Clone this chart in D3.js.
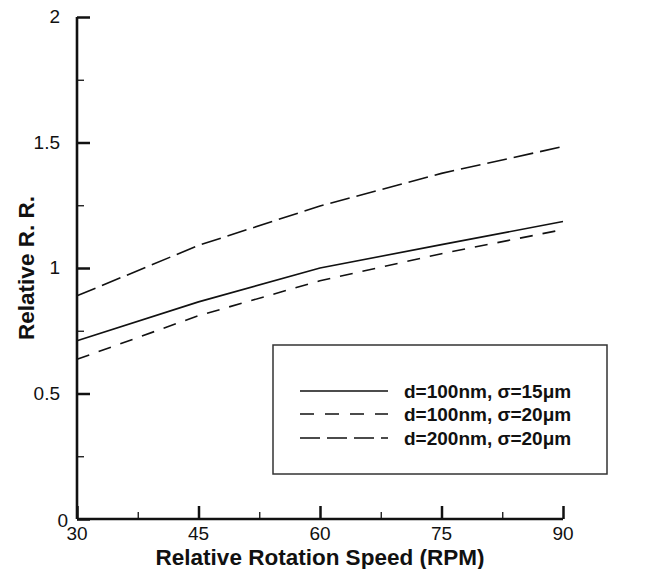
<!DOCTYPE html>
<html><head><meta charset="utf-8">
<script src="https://cdn.jsdelivr.net/npm/d3@7"></script>
<style>body{margin:0;background:#fff;} svg{display:block;font-family:"Liberation Sans",Arial,sans-serif;}</style>
</head><body>
<svg id="c" width="653" height="569"></svg>
<script>
const speeds = [30, 45, 60, 75, 90];
const seriesNames = ["d=100nm, \u03c3=15\u03bcm", "d=100nm, \u03c3=20\u03bcm", "d=200nm, \u03c3=20\u03bcm"];
const solidValues = [0.71, 0.865, 1.0, 1.093, 1.185];
const shortDashValues = [0.636, 0.81, 0.949, 1.057, 1.153];
const longDashValues = [0.889, 1.09, 1.247, 1.377, 1.484];
const xTicks = [30, 45, 60, 75, 90];
const yTicks = [0, 0.5, 1, 1.5, 2];
const yTickLabels = ["0", "0.5", "1", "1.5", "2"];

const svg = d3.select("#c");
const x = d3.scaleLinear().domain([30, 90]).range([77, 563]);
const y = d3.scaleLinear().domain([0, 2]).range([519, 17]);

const dashes = ["none", "13,10", "20,7"];
const data = [solidValues, shortDashValues, longDashValues];

const line = d3.line().x((d, i) => x(speeds[i])).y(d => y(d));
data.forEach((vals, k) => {
  svg.append("path").attr("d", line(vals)).attr("fill", "none")
    .attr("stroke", "#111").attr("stroke-width", 1.6)
    .attr("stroke-dasharray", dashes[k]);
});

// axes
const gx = svg.append("g").attr("transform", `translate(0,${y(0)})`);
gx.call(d3.axisTop(x).tickValues(d3.range(30, 90.1, 7.5)).tickSize(7).tickFormat(""));
gx.selectAll(".tick line").attr("stroke", "#111").attr("stroke-width", 1.3);
gx.selectAll(".tick").filter(d => xTicks.includes(d)).select("line").attr("y2", -13).attr("stroke-width", 2.5);
gx.select(".domain").attr("stroke", "#111").attr("stroke-width", 2.6).attr("d", `M${x(30)},0H${x(90)}`);
gx.selectAll(".tlab").data(xTicks).enter().append("text")
  .attr("x", d => x(d)).attr("y", 21).attr("text-anchor", "middle")
  .attr("font-size", 19).attr("fill", "#111").text(d => d);

const gy = svg.append("g").attr("transform", `translate(${x(30)},0)`);
gy.call(d3.axisRight(y).tickValues(d3.range(0, 2.01, 0.25)).tickSize(7).tickFormat(""));
gy.selectAll(".tick line").attr("stroke", "#111").attr("stroke-width", 1.3);
gy.selectAll(".tick").filter(d => yTicks.includes(d)).select("line").attr("x2", 13).attr("stroke-width", 2.5);
gy.select(".domain").attr("stroke", "#111").attr("stroke-width", 2.6).attr("d", `M0,${y(0)}V${y(2)}`);
gy.selectAll(".tlab").data(yTicks).enter().append("text")
  .attr("x", d => d === 0 ? -9 : -17).attr("y", d => y(d) + (d === 0 ? 8 : 6)).attr("text-anchor", "end")
  .attr("font-size", 19).attr("fill", "#111").text((d, i) => yTickLabels[i]);

// titles
svg.append("text").attr("x", 320).attr("y", 565).attr("text-anchor", "middle")
  .attr("font-size", 22.5).attr("font-weight", "bold").attr("fill", "#111").text("Relative Rotation Speed (RPM)");
svg.append("text").attr("transform", "translate(34,268) rotate(-90)").attr("text-anchor", "middle")
  .attr("font-size", 22.5).attr("font-weight", "bold").attr("fill", "#111").text("Relative R. R.");

// legend
svg.append("rect").attr("x", 273).attr("y", 345).attr("width", 334).attr("height", 129)
  .attr("fill", "#fff").attr("stroke", "#333").attr("stroke-width", 1.5);
const legY = [391, 414, 438];
seriesNames.forEach((name, k) => {
  svg.append("line").attr("x1", 300).attr("x2", 388).attr("y1", legY[k]).attr("y2", legY[k])
    .attr("stroke", "#111").attr("stroke-width", 1.6).attr("stroke-dasharray", k === 0 ? "none" : (k === 1 ? "14,11" : "20,7"));
  svg.append("text").attr("x", 404).attr("y", legY[k] + 7).attr("font-size", 19)
    .attr("font-weight", "bold").attr("fill", "#111").text(name);
});
</script>
</body></html>
